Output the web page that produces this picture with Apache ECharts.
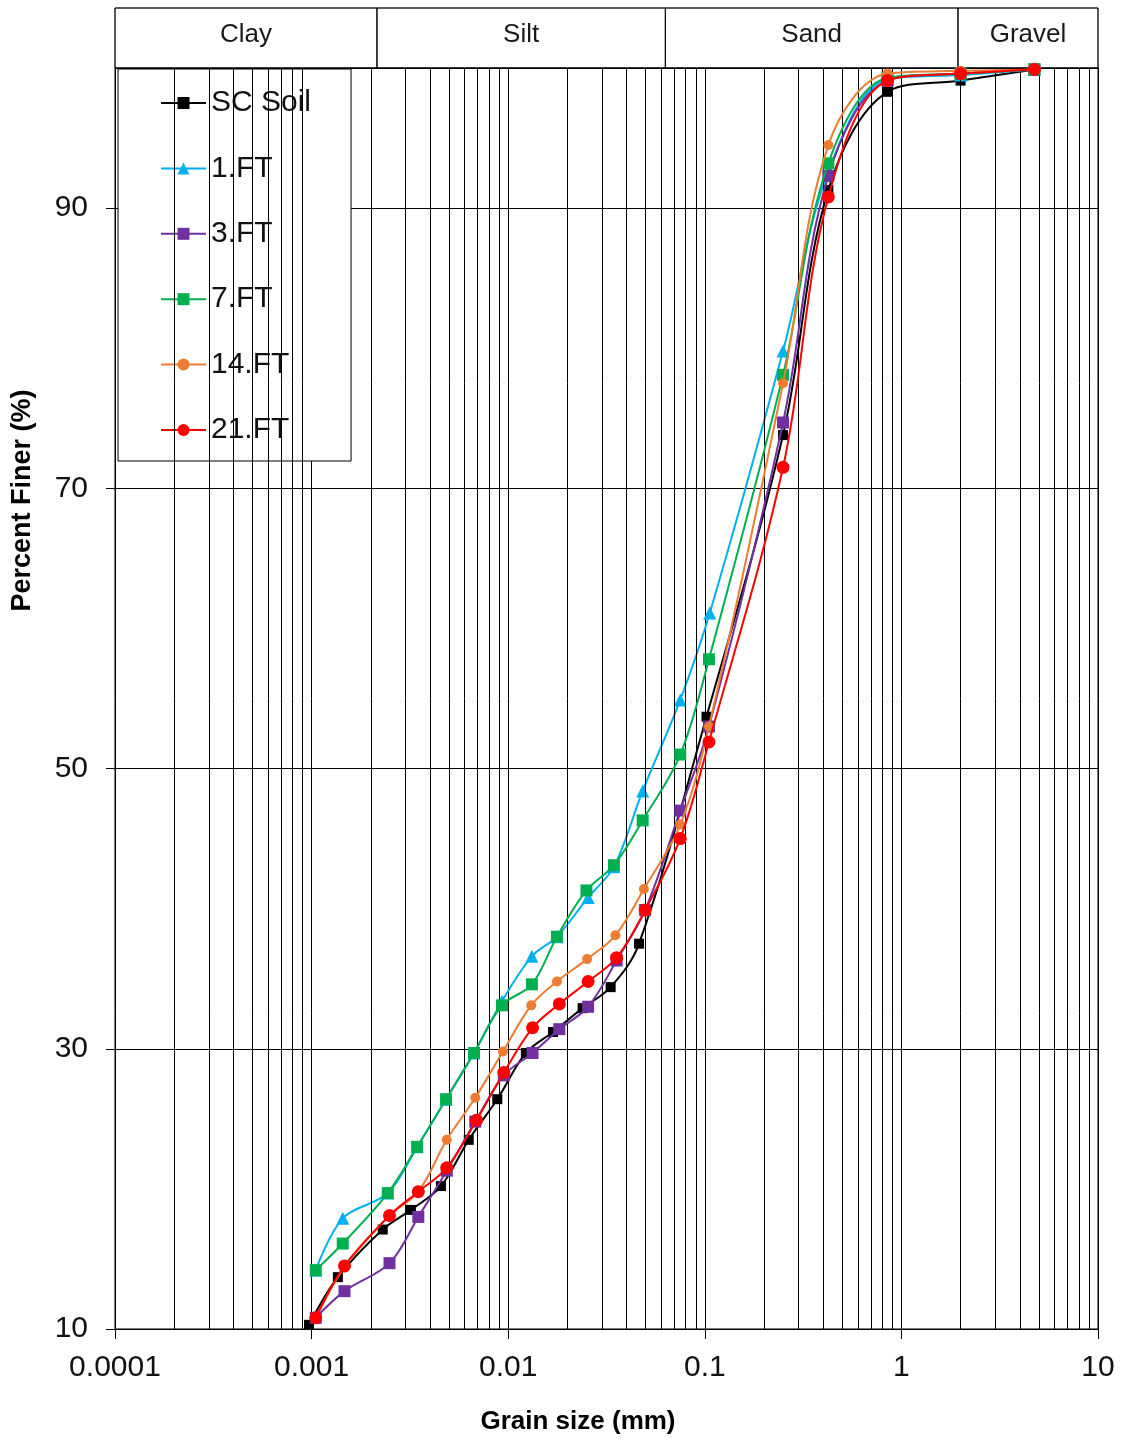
<!DOCTYPE html>
<html>
<head>
<meta charset="utf-8">
<script src="https://cdn.jsdelivr.net/npm/echarts@6/dist/echarts.min.js"></script>
<style>
html,body{margin:0;padding:0;background:#fff;}
#chart{width:1122px;height:1443px;}
</style>
</head>
<body>
<div id="chart"></div>
<script>
// ---- Data ----
const seriesNames = ['SC Soil', '1.FT', '3.FT', '7.FT', '14.FT', '21.FT'];

const xSC = [0.00097, 0.00136, 0.0023, 0.0032, 0.00455, 0.0063, 0.0088, 0.0123, 0.0169, 0.0239, 0.0332, 0.0463, 0.102, 0.25, 0.425, 0.85, 2.0, 4.75];
const ySC = [10.3, 13.7, 17.1, 18.5, 20.2, 23.5, 26.4, 29.7, 31.2, 32.9, 34.4, 37.5, 53.7, 73.8, 91.3, 98.3, 99.1, 99.9];

const x1FT = [0.00105, 0.00144, 0.00244, 0.00344, 0.00483, 0.0067, 0.0093, 0.0132, 0.0177, 0.0255, 0.0345, 0.0483, 0.075, 0.106, 0.25, 0.425, 0.85, 2.0, 4.75];
const y1FT = [14.2, 17.9, 19.7, 23.0, 26.4, 29.7, 33.4, 36.6, 38.0, 40.8, 43.0, 48.4, 54.9, 61.1, 79.8, 92.6, 99.2, 99.5, 99.9];

const x3FT = [0.00105, 0.00147, 0.00249, 0.00349, 0.00487, 0.0068, 0.0095, 0.0133, 0.0182, 0.0255, 0.0356, 0.0497, 0.075, 0.105, 0.25, 0.425, 0.85, 2.0, 4.75];
const y3FT = [10.8, 12.7, 14.7, 18.0, 21.3, 24.8, 28.1, 29.7, 31.4, 33.0, 36.3, 39.9, 47.0, 53.0, 74.7, 92.3, 99.1, 99.6, 99.9];

const x7FT = [0.00105, 0.00144, 0.00244, 0.00344, 0.00483, 0.0067, 0.0093, 0.0132, 0.0177, 0.025, 0.0345, 0.0483, 0.075, 0.105, 0.25, 0.425, 0.85, 2.0, 4.75];
const y7FT = [14.2, 16.1, 19.7, 23.0, 26.4, 29.7, 33.1, 34.6, 38.0, 41.3, 43.1, 46.3, 51.0, 57.8, 78.1, 93.2, 99.3, 99.6, 99.9];

const x14FT = [0.00105, 0.00147, 0.00249, 0.00349, 0.00487, 0.0068, 0.0094, 0.0131, 0.0177, 0.0252, 0.0351, 0.049, 0.075, 0.105, 0.25, 0.425, 0.85, 2.0, 4.75];
const y14FT = [10.8, 14.4, 18.1, 19.8, 23.5, 26.5, 29.8, 33.1, 34.8, 36.4, 38.1, 41.4, 46.0, 53.0, 77.5, 94.5, 99.6, 99.8, 99.9];

const x21FT = [0.00105, 0.00147, 0.00249, 0.00349, 0.00487, 0.0069, 0.0095, 0.0133, 0.0182, 0.0255, 0.0356, 0.0497, 0.075, 0.105, 0.25, 0.425, 0.85, 2.0, 4.75];
const y21FT = [10.8, 14.5, 18.1, 19.8, 21.5, 24.9, 28.3, 31.5, 33.2, 34.8, 36.5, 39.9, 45.0, 51.9, 71.5, 90.8, 99.1, 99.6, 99.9];

// Soil classification bands (edges in mm)
const bandNames = ['Clay', 'Silt', 'Sand', 'Gravel'];
const bandEdges = [0.0001, 0.00215, 0.063, 1.94, 10];

// Axis ticks
const yTicks = [10, 30, 50, 70, 90];

// ---- Styles ----
const colors = ['#000000', '#00B0F0', '#7030A0', '#00B050', '#ED7D31', '#FF0000'];
const symbols = ['rect', 'triangle', 'rect', 'rect', 'circle', 'circle'];
const symbolSizes = [10, 13, 12, 12, 10, 13];
const FONT = '"Liberation Sans", Arial, sans-serif';

const xs = [xSC, x1FT, x3FT, x7FT, x14FT, x21FT];
const ys = [ySC, y1FT, y3FT, y7FT, y14FT, y21FT];

// minor vertical grid lines (2..9 in each decade)
const minorLines = [];
for (let d = -4; d <= 0; d++) {
  for (let k = 2; k <= 9; k++) {
    minorLines.push({ xAxis: +(k * Math.pow(10, d)).toPrecision(3) });
  }
}

const dataSeries = seriesNames.map((name, i) => ({
  name: name,
  type: 'line',
  xAxisIndex: 0,
  yAxisIndex: 0,
  data: xs[i].map((x, j) => [x, ys[i][j]]),
  smooth: 0.35,
  symbol: symbols[i],
  symbolSize: symbolSizes[i],
  showAllSymbol: true,
  lineStyle: { color: colors[i], width: 2 },
  itemStyle: { color: colors[i] },
  z: 3 + i,
  animation: false
}));

const option = {
  animation: false,
  backgroundColor: '#fff',
  textStyle: { fontFamily: FONT },
  grid: [
    { left: 115, right: 24, top: 68, bottom: 114, show: true, borderColor: '#000', borderWidth: 1, backgroundColor: 'transparent' },
    { left: 115, right: 24, top: 8, height: 60, show: true, borderColor: '#666', borderWidth: 1, backgroundColor: 'transparent' }
  ],
  legend: {
    data: seriesNames,
    orient: 'vertical',
    left: 118,
    top: 69,
    itemWidth: 45,
    itemHeight: 15,
    itemGap: 35.4,
    padding: [19, 40, 16, 42],
    backgroundColor: '#fff',
    borderColor: '#000',
    borderWidth: 1,
    textStyle: { fontSize: 30, color: '#111', fontFamily: FONT }
  },
  xAxis: [
    {
      type: 'log', logBase: 10, min: 0.0001, max: 10, gridIndex: 0,
      name: 'Grain size (mm)', nameLocation: 'middle', nameGap: 80,
      nameTextStyle: { fontSize: 26, fontWeight: 'bold', color: '#000', fontFamily: FONT, padding: [0, 57, 0, 0] },
      axisLine: { show: true, onZero: false, lineStyle: { color: '#000', width: 1 } },
      axisTick: { show: true, inside: false, length: 10, lineStyle: { color: '#000' } },
      axisLabel: { fontSize: 30, color: '#111', margin: 24, fontFamily: FONT, formatter: v => String(+(+v).toPrecision(1)) },
      splitLine: { show: true, lineStyle: { color: '#000', width: 1 } }
    },
    {
      type: 'log', logBase: 10, min: 0.0001, max: 10, gridIndex: 1, show: false
    }
  ],
  yAxis: [
    {
      type: 'value', min: 10, max: 100, interval: 20, gridIndex: 0,
      name: 'Percent Finer (%)', nameLocation: 'middle', nameGap: 79,
      nameTextStyle: { fontSize: 27, fontWeight: 'bold', color: '#000', fontFamily: FONT, padding: [0, 0, 0, 396] },
      axisLine: { show: true, lineStyle: { color: '#000', width: 1 } },
      axisTick: { show: true, inside: false, length: 9, lineStyle: { color: '#000' } },
      axisLabel: { fontSize: 30, color: '#111', margin: 27, showMaxLabel: false, fontFamily: FONT,
        formatter: v => (yTicks.indexOf(v) >= 0 ? String(v) : '') },
      splitLine: { show: true, lineStyle: { color: '#000', width: 1 } }
    },
    { type: 'value', min: 0, max: 1, gridIndex: 1, show: false }
  ],
  series: [
    {
      name: '_minor',
      type: 'line',
      xAxisIndex: 0, yAxisIndex: 0,
      data: [],
      z: 1,
      silent: true,
      markLine: {
        silent: true,
        precision: 8,
        symbol: ['none', 'none'],
        label: { show: false },
        lineStyle: { color: '#000', width: 1, type: 'solid' },
        emphasis: { disabled: true },
        animation: false,
        data: minorLines
      }
    },
    {
      name: '_bands',
      type: 'line',
      xAxisIndex: 1, yAxisIndex: 1,
      data: [],
      silent: true,
      markArea: {
        silent: true,
        animation: false,
        itemStyle: { color: 'rgba(0,0,0,0)', borderColor: '#000', borderWidth: 1 },
        label: { show: true, position: 'inside', fontSize: 26, color: '#1a1a1a', fontFamily: FONT, offset: [0, -3] },
        emphasis: { disabled: true },
        data: bandNames.map((n, i) => [
          { name: n, xAxis: bandEdges[i], yAxis: 0 },
          { xAxis: bandEdges[i + 1], yAxis: 1 }
        ])
      }
    }
  ].concat(dataSeries)
};

const chart = echarts.init(document.getElementById('chart'), null, { renderer: 'canvas' });
chart.setOption(option);
</script>
</body>
</html>
